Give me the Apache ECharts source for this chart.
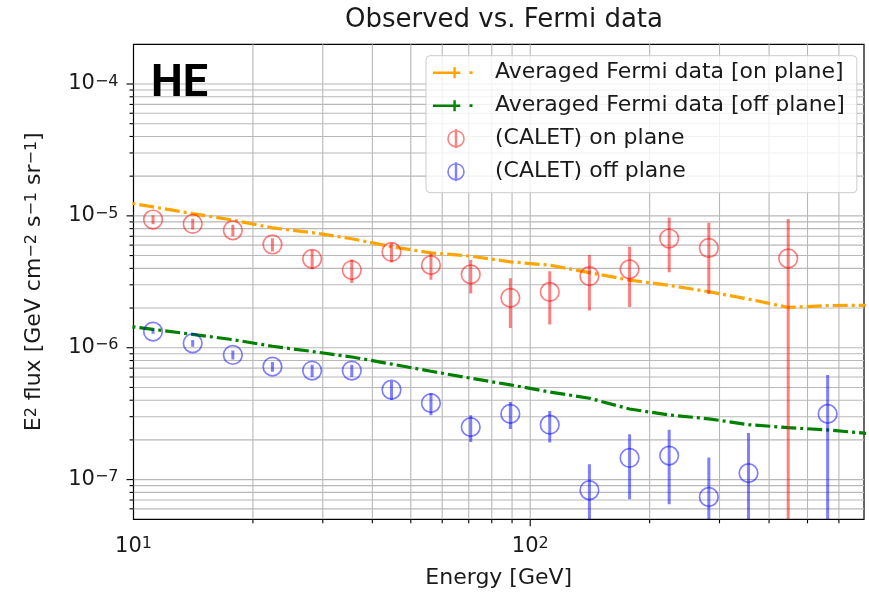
<!DOCTYPE html>
<html>
<head>
<meta charset="utf-8">
<script src="https://cdn.jsdelivr.net/npm/echarts@6/dist/echarts.min.js"></script>
<style>
  html, body { margin: 0; padding: 0; background: #ffffff; }
  #chart { width: 869px; height: 597px; }
</style>
</head>
<body>
<div id="chart"></div>
<script>
// Averaged Fermi spectra (GeV, GeV cm^-2 s^-1 sr^-1)
const fermiEnergy = [8.91, 11.2, 14.1, 17.8, 22.4, 28.2, 35.5, 44.7, 56.2, 70.8, 89.1, 112, 141, 178, 224, 282, 355, 447, 562, 708];
const fermiOnPlane = [1.31e-5, 1.17e-5, 1.04e-5, 9.29e-6, 8.11e-6, 7.46e-6, 6.71e-6, 5.84e-6, 5.24e-6, 4.95e-6, 4.48e-6, 4.23e-6, 3.71e-6, 3.26e-6, 2.97e-6, 2.66e-6, 2.34e-6, 2.02e-6, 2.09e-6, 2.10e-6];
const fermiOffPlane = [1.50e-6, 1.378e-6, 1.263e-6, 1.152e-6, 1.026e-6, 9.37e-7, 8.51e-7, 7.52e-7, 6.63e-7, 5.87e-7, 5.23e-7, 4.62e-7, 4.14e-7, 3.43e-7, 3.09e-7, 2.89e-7, 2.61e-7, 2.48e-7, 2.38e-7, 2.24e-7];

// CALET on plane: energy, flux, symmetric error
const caletOnEnergy = [11.2, 14.1, 17.8, 22.4, 28.2, 35.5, 44.7, 56.2, 70.8, 89.1, 112, 141, 178, 224, 282, 447];
const caletOnFlux = [9.38e-6, 8.69e-6, 7.78e-6, 6.07e-6, 4.72e-6, 3.88e-6, 5.33e-6, 4.23e-6, 3.60e-6, 2.39e-6, 2.65e-6, 3.49e-6, 3.93e-6, 6.73e-6, 5.71e-6, 4.75e-6];
const caletOnErr = [0.75e-6, 0.81e-6, 0.79e-6, 0.70e-6, 0.78e-6, 0.78e-6, 0.90e-6, 0.95e-6, 1.02e-6, 0.98e-6, 1.15e-6, 1.57e-6, 1.89e-6, 3.0e-6, 3.15e-6, 4.72e-6];

// CALET off plane: energy, flux, symmetric error
const caletOffEnergy = [11.2, 14.1, 17.8, 22.4, 28.2, 35.5, 44.7, 56.2, 70.8, 89.1, 112, 141, 178, 224, 282, 355, 562];
const caletOffFlux = [1.325e-6, 1.081e-6, 8.82e-7, 7.19e-7, 6.71e-7, 6.71e-7, 4.80e-7, 3.80e-7, 2.50e-7, 3.15e-7, 2.61e-7, 8.30e-8, 1.46e-7, 1.52e-7, 7.38e-8, 1.12e-7, 3.15e-7];
const caletOffErr = [0.05e-6, 0.064e-6, 0.069e-6, 0.061e-6, 0.071e-6, 0.071e-6, 0.077e-6, 0.072e-6, 0.057e-6, 0.073e-6, 0.070e-6, 4.8e-8, 7.5e-8, 8.7e-8, 7.3e-8, 1.14e-7, 3.07e-7];

// Axis ranges and grid/tick positions
const xRange = [10, 694];
const yRange = [5e-8, 2e-4];
const xMajorTicks = [10, 100];
const xMinorTicks = [20, 30, 40, 50, 60, 70, 80, 90, 200, 300, 400, 500, 600];
const yMajorTicks = [1e-7, 1e-6, 1e-5, 1e-4];
const yMinorTicks = [6e-8, 7e-8, 8e-8, 9e-8,
  2e-7, 3e-7, 4e-7, 5e-7, 6e-7, 7e-7, 8e-7, 9e-7,
  2e-6, 3e-6, 4e-6, 5e-6, 6e-6, 7e-6, 8e-6, 9e-6,
  2e-5, 3e-5, 4e-5, 5e-5, 6e-5, 7e-5, 8e-5, 9e-5];

const FONT = 'DejaVu Sans';
const INK = '#1a1a1a';
const GRID_COLOR = '#b8b8b8';
const ORANGE = '#ffa500';
const GREEN = '#008000';
const RED = 'rgba(255,0,0,0.5)';
const BLUE = 'rgba(0,0,255,0.5)';

const NAMES = {
  fermiOn: 'Averaged Fermi data [on plane]',
  fermiOff: 'Averaged Fermi data [off plane]',
  caletOn: '(CALET) on plane',
  caletOff: '(CALET) off plane'
};

// Legend handles share a 57x19 frame (corner moveTo points fix the bounding box).
// Dash-dot line with an error-bar cap:
const LINE_ICON = 'path://M0,0 M57,19 ' +
  'M0,8.3 L27.3,8.3 L27.3,10.7 L0,10.7 Z ' +
  'M20.4,4 L22.8,4 L22.8,15 L20.4,15 Z ' +
  'M36.5,8.1 L39.5,8.1 L39.5,10.9 L36.5,10.9 Z';
// Open circle with a vertical error bar through it:
const RING_ICON = 'path://M0,0 M57,19 ' +
  'M14.2,9.5 A8.8,8.8 0 1,1 31.8,9.5 A8.8,8.8 0 1,1 14.2,9.5 Z ' +
  'M15.8,9.5 A7.2,7.2 0 1,0 30.2,9.5 A7.2,7.2 0 1,0 15.8,9.5 Z ' +
  'M21.8,0 L24.2,0 L24.2,19 L21.8,19 Z';

function superscriptPower(v) {
  const e = Math.log10(v);
  const r = Math.round(e);
  if (Math.abs(e - r) > 1e-6) return '';
  return '{b|10}{s|' + (r < 0 ? '\u2212' + (-r) : String(r)) + '}';
}

const tickRich = {
  b: { fontSize: 21, fontFamily: FONT, color: INK },
  s: { fontSize: 16, fontFamily: FONT, color: INK, verticalAlign: 'top' }
};

// grid lines plus outward ticks along one axis
function gridSeries(values, isX, tickLen) {
  return {
    type: 'custom',
    silent: true,
    z: 1,
    clip: false,
    data: values.map(v => isX ? [v, yRange[0]] : [xRange[0], v]),
    encode: { x: 0, y: 1 },
    renderItem: function (params, api) {
      const cs = params.coordSys;
      const p = api.coord([api.value(0), api.value(1)]);
      if (isX) {
        const yb = cs.y + cs.height;
        return { type: 'group', children: [
          { type: 'line', shape: { x1: p[0], y1: cs.y, x2: p[0], y2: yb }, style: { stroke: GRID_COLOR, lineWidth: 1.1 } },
          { type: 'line', shape: { x1: p[0], y1: yb, x2: p[0], y2: yb + tickLen }, style: { stroke: '#000', lineWidth: 1.1 } }
        ] };
      }
      return { type: 'group', children: [
        { type: 'line', shape: { x1: cs.x, y1: p[1], x2: cs.x + cs.width, y2: p[1] }, style: { stroke: GRID_COLOR, lineWidth: 1.1 } },
        { type: 'line', shape: { x1: cs.x - tickLen, y1: p[1], x2: cs.x, y2: p[1] }, style: { stroke: '#000', lineWidth: 1.1 } }
      ] };
    }
  };
}

// open circles with vertical error bars; bars reaching below the axis stop at its edge
function errorBarSeries(name, energy, flux, err, color) {
  return {
    name: name,
    type: 'custom',
    z: 4,
    clip: true,
    itemStyle: { color: color },
    data: energy.map((e, i) => [e, flux[i], err[i]]),
    encode: { x: 0, y: 1 },
    renderItem: function (params, api) {
      const cs = params.coordSys;
      const e = api.value(0), f = api.value(1), d = api.value(2);
      const c = api.coord([e, f]);
      const top = api.coord([e, f + d])[1];
      const low = f - d;
      const bottom = low > yRange[0] ? api.coord([e, low])[1] : cs.y + cs.height;
      return { type: 'group', children: [
        { type: 'line', shape: { x1: c[0], y1: top, x2: c[0], y2: bottom },
          style: { stroke: color, lineWidth: 3 } },
        { type: 'circle', shape: { cx: c[0], cy: c[1], r: 9.3 },
          style: { fill: 'none', stroke: color, lineWidth: 1.7 } }
      ] };
    }
  };
}

function fermiSeries(name, values, color) {
  return {
    name: name,
    type: 'line',
    z: 3,
    clip: true,
    symbol: 'none',
    silent: true,
    itemStyle: { color: color },
    lineStyle: { color: color, width: 3.2, type: [15, 4, 3, 4], cap: 'butt' },
    data: fermiEnergy.map((e, i) => [e, values[i]])
  };
}

const chart = echarts.init(document.getElementById('chart'), null, { renderer: 'canvas' });

chart.setOption({
  animation: false,
  backgroundColor: '#ffffff',
  title: [
    {
      text: 'Observed vs. Fermi data',
      left: 499, top: 2, textAlign: 'center',
      textStyle: { fontFamily: FONT, fontSize: 26, fontWeight: 'normal', color: INK }
    },
    {
      text: 'HE',
      left: 146, top: 57,
      textStyle: { fontFamily: 'Roboto', fontSize: 45, fontWeight: 'bold', color: '#000' }
    }
  ],
  grid: {
    left: 133.5, top: 44.3, width: 730.5, height: 475,
    show: true, borderColor: '#000', borderWidth: 1.2, backgroundColor: 'transparent',
    outerBoundsMode: 'none', containLabel: false
  },
  legend: {
    orient: 'vertical',
    left: 426, top: 55.7,
    padding: [6, 12, 10, 7],
    itemGap: 11, itemWidth: 57, itemHeight: 19,
    selectedMode: false,
    backgroundColor: 'rgba(255,255,255,0.8)',
    borderColor: '#cccccc', borderWidth: 1, borderRadius: 4,
    textStyle: { fontFamily: FONT, fontSize: 22, color: INK, lineHeight: 22 },
    data: [
      { name: NAMES.fermiOn, icon: LINE_ICON, itemStyle: { color: ORANGE, borderWidth: 0 },
        lineStyle: { width: 0, opacity: 0 } },
      { name: NAMES.fermiOff, icon: LINE_ICON, itemStyle: { color: GREEN, borderWidth: 0 },
        lineStyle: { width: 0, opacity: 0 } },
      { name: NAMES.caletOn, icon: RING_ICON, itemStyle: { color: RED, borderWidth: 0 } },
      { name: NAMES.caletOff, icon: RING_ICON, itemStyle: { color: BLUE, borderWidth: 0 } }
    ]
  },
  xAxis: {
    type: 'log', logBase: 10,
    min: xRange[0], max: xRange[1],
    name: 'Energy [GeV]', nameLocation: 'middle', nameGap: 48,
    nameTextStyle: { fontFamily: FONT, fontSize: 22, color: INK },
    axisLine: { show: false },
    axisTick: { show: false },
    splitLine: { show: false },
    axisLabel: { margin: 17, formatter: superscriptPower, rich: tickRich }
  },
  yAxis: {
    type: 'log', logBase: 10,
    min: yRange[0], max: yRange[1],
    name: '{t|E}{s|2}{t| flux [GeV cm}{s|\u22122}{t| s}{s|\u22121}{t| sr}{s|\u22121}{t|]}',
    nameLocation: 'middle', nameRotate: 90, nameGap: 88,
    nameTextStyle: {
      rich: {
        t: { fontFamily: FONT, fontSize: 22, color: INK },
        s: { fontFamily: FONT, fontSize: 16, color: INK, verticalAlign: 'top' }
      }
    },
    axisLine: { show: false },
    axisTick: { show: false },
    splitLine: { show: false },
    axisLabel: { margin: 15, formatter: superscriptPower, rich: tickRich }
  },
  series: [
    gridSeries(xMajorTicks.slice(1), true, 7),
    gridSeries(xMinorTicks, true, 4),
    gridSeries(yMajorTicks, false, 7),
    gridSeries(yMinorTicks, false, 4),
    fermiSeries(NAMES.fermiOn, fermiOnPlane, ORANGE),
    fermiSeries(NAMES.fermiOff, fermiOffPlane, GREEN),
    errorBarSeries(NAMES.caletOn, caletOnEnergy, caletOnFlux, caletOnErr, RED),
    errorBarSeries(NAMES.caletOff, caletOffEnergy, caletOffFlux, caletOffErr, BLUE)
  ]
});
</script>
</body>
</html>
